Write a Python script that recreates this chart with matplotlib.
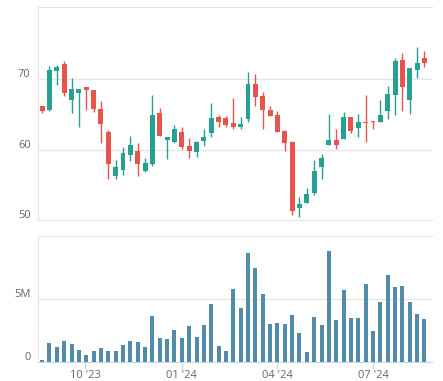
import numpy as np
import pandas as pd
import matplotlib
matplotlib.use('Agg')
import matplotlib.pyplot as plt
import matplotlib.dates as mdates
from matplotlib.transforms import ScaledTranslation

# weekly OHLC
opens = [66.2, 65.6, 71.2, 72.2, 67.1, 68.1, 68.9, 68.5, 65.8, 62.5,
         56.2, 57.1, 59.3, 59.8, 56.9, 57.9, 65.2, 61.4, 61.1, 62.5,
         60.5, 59.7, 61.2, 62.4, 64.6, 64.5, 63.8, 63.2, 64.4, 69.4,
         67.6, 65.6, 65.0, 62.6, 61.1, 51.7, 52.4, 53.8, 57.5, 60.7,
         61.4, 61.5, 64.7, 63.1, 64.0, 64.1, 64.0, 65.5, 67.8, 72.7,
         67.0, 71.4, 73.0]
closes = [65.5, 71.3, 71.8, 68.1, 68.6, 68.6, 68.5, 65.8, 63.7, 58.0,
          57.6, 59.6, 60.6, 58.0, 58.1, 65.0, 62.0, 61.8, 62.9, 60.4,
          59.8, 61.1, 61.8, 64.5, 64.0, 63.5, 63.2, 63.6, 69.3, 67.5,
          65.7, 64.8, 62.5, 61.0, 51.3, 52.3, 53.7, 56.9, 58.8, 61.4,
          60.7, 64.6, 62.7, 64.0, 63.8, 63.9, 65.0, 67.9, 72.6, 68.9,
          71.6, 72.4, 72.4]
highs = [66.2, 71.9, 72.0, 72.6, 70.2, 68.6, 68.9, 68.5, 66.9, 62.8,
         58.6, 60.4, 62.0, 61.0, 58.8, 67.8, 65.9, 61.8, 63.5, 63.2,
         61.6, 61.2, 63.0, 66.6, 65.0, 64.8, 67.3, 64.6, 71.0, 70.8,
         68.2, 66.2, 65.5, 62.8, 61.2, 53.2, 54.5, 58.6, 59.4, 65.1,
         63.0, 65.3, 64.7, 65.1, 67.8, 64.1, 67.1, 69.0, 73.1, 73.7,
         71.6, 74.6, 74.1]
lows = [65.2, 65.5, 69.2, 67.6, 65.2, 63.2, 65.6, 65.4, 61.0, 55.8,
        55.8, 56.4, 58.4, 56.2, 56.8, 57.7, 61.9, 58.7, 61.0, 60.1,
        58.8, 59.0, 60.5, 61.8, 63.2, 63.2, 63.0, 62.9, 63.9, 66.2,
        63.0, 64.8, 62.5, 59.8, 50.7, 50.4, 52.4, 53.6, 55.9, 60.6,
        60.1, 61.5, 62.4, 61.8, 61.1, 63.0, 64.0, 64.3, 64.9, 65.5,
        65.1, 70.2, 71.7]
# volume in millions
volumes = [0.16, 1.54, 1.22, 1.70, 1.46, 0.97, 0.57, 0.89, 1.14, 0.89,
           0.89, 1.38, 1.70, 1.62, 1.22, 3.65, 1.95, 1.86, 2.59, 1.95,
           2.84, 2.03, 2.92, 4.62, 1.30, 0.89, 5.84, 4.30, 8.68, 7.46,
           5.43, 3.00, 3.08, 3.00, 3.73, 2.35, 0.81, 3.57, 2.92, 8.84,
           3.32, 5.76, 3.49, 3.49, 6.24, 2.51, 4.78, 6.97, 6.00, 6.08,
           4.78, 3.81, 3.41]
weeks = pd.date_range('2023-08-21', periods=len(opens), freq='7D')

price_ticks = [50, 60, 70]
vol_ticks = [0, 5]
vol_tick_labels = ['0', '5M']
x_tick_dates = ['2023-10-01', '2024-01-01', '2024-04-01', '2024-07-01']
x_tick_labels = ["10 '23", "01 '24", "04 '24", "07 '24"]

green = '#26a092'
red = '#e8534d'
vol_color = '#518dab'
grid_c = '#e6e6e6'
axis_c = '#ccd6eb'
text_c = '#666666'

plt.rcParams['font.family'] = ['Open Sans', 'DejaVu Sans']

fig = plt.figure(figsize=(4.43, 3.81), dpi=100)
ax1 = fig.add_axes([0.0851, 0.4226, 0.8901, 0.559])
ax2 = fig.add_axes([0.0851, 0.0499, 0.8901, 0.3307])

x = mdates.date2num(weeks)
o = np.array(opens)
c = np.array(closes)
cols = [green if cc >= oo else red for oo, cc in zip(o, c)]

ax1.vlines(x, lows, highs, colors=cols, linewidth=1.0, zorder=2)
body_h = np.maximum(np.abs(c - o), 0.15)
ax1.bar(x, body_h, bottom=np.minimum(o, c), width=4.7, color=cols, zorder=3)

ax2.bar(x, np.array(volumes) * 1e6, width=3.8, color=vol_color, zorder=3)

x0 = x[0] - 4.2
x1 = x[-1] + 7.2
for ax in (ax1, ax2):
    ax.set_xlim(x0, x1)
    ax.set_facecolor('white')
    ax.grid(axis='y', color=grid_c, linewidth=1, zorder=0)
    ax.spines['right'].set_visible(False)
    ax.spines['left'].set_color(grid_c)
    ax.spines['top'].set_color(grid_c)
    ax.tick_params(axis='y', length=0, pad=5, labelsize=8, labelcolor=text_c)

ax1.set_ylim(50, 80.3)
ax1.set_yticks(price_ticks)
ax1.spines['bottom'].set_color(grid_c)
ax1.set_xticks([])

ax2.set_ylim(0, 10.05e6)
ax2.set_yticks([v * 1e6 for v in vol_ticks])
ax2.set_yticklabels(vol_tick_labels)
ax2.spines['bottom'].set_color(axis_c)
ax2.set_xticks(mdates.date2num(pd.to_datetime(x_tick_dates)))
ax2.set_xticklabels(x_tick_labels)
ax2.tick_params(axis='x', length=5, width=1, color=axis_c, pad=1,
                labelsize=8, labelcolor=text_c)

# labels sit just above their grid lines
shift = ScaledTranslation(0, 6 / 100, fig.dpi_scale_trans)
for ax in (ax1, ax2):
    for lbl in ax.get_yticklabels():
        lbl.set_transform(lbl.get_transform() + shift)

fig.savefig('out.png', dpi=100)
